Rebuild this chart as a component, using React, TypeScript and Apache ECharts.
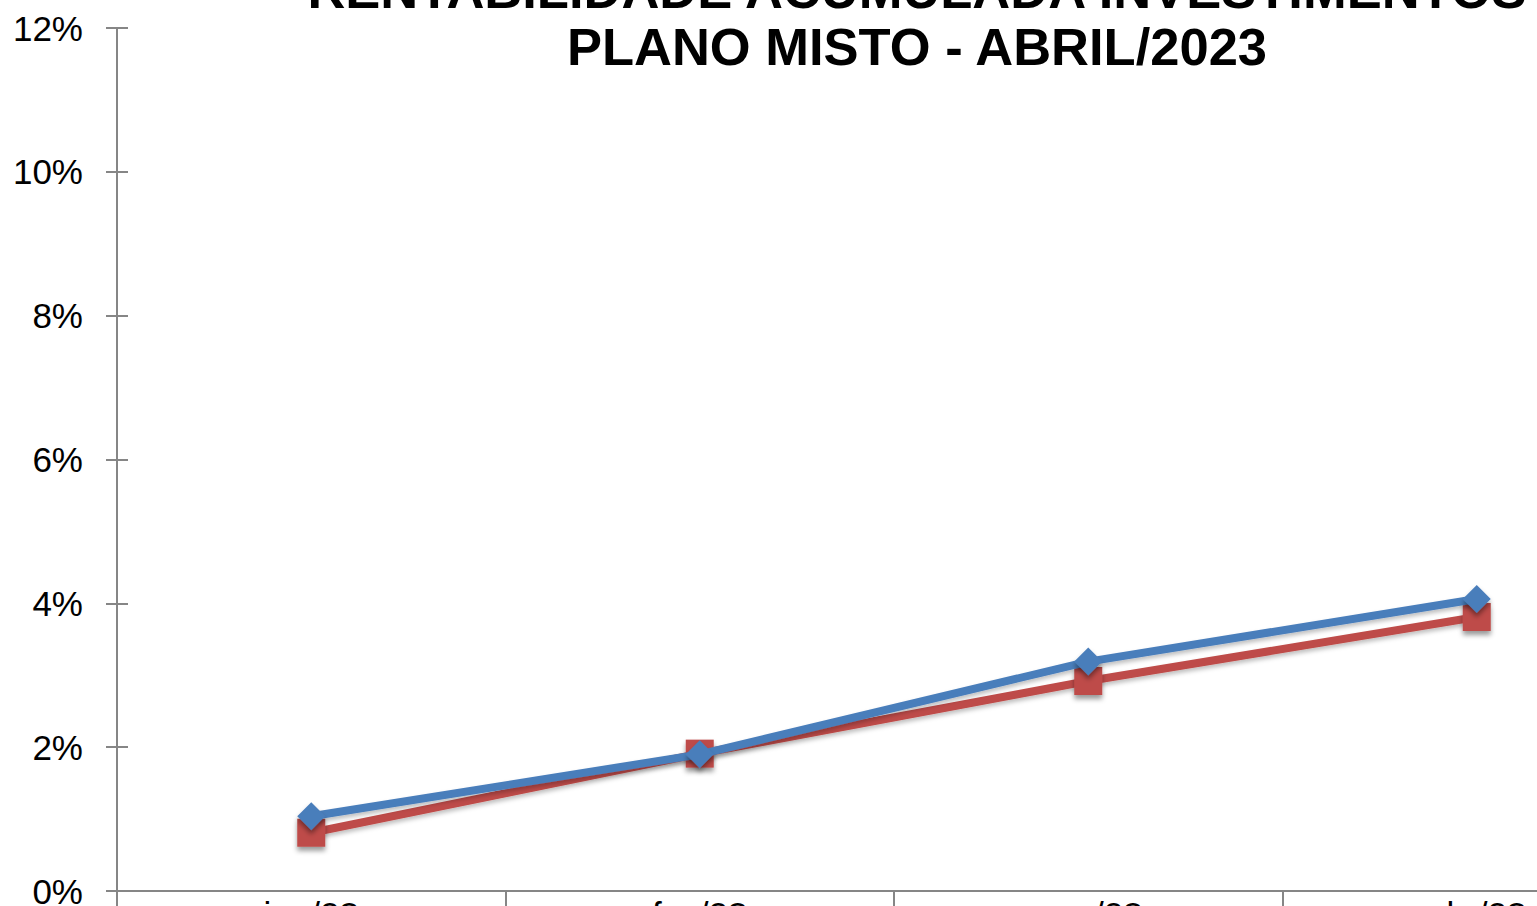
import React, { useEffect, useRef } from "react";
import * as echarts from "echarts";

const categories = ["jan/23", "fev/23", "mar/23", "abr/23"];
const planoValues = [1.04, 1.9, 3.19, 4.06];
const metaValues = [0.81, 1.91, 2.92, 3.81];
const yTicks = { min: 0, max: 12, interval: 2 };
const titleLines = ["RENTABILIDADE ACUMULADA INVESTIMENTOS", "PLANO MISTO - ABRIL/2023"];

const AXIS_COLOR = "#868686";
const FONT = "'Liberation Sans', Arial, sans-serif";
const CHART_W = 1700;
const CHART_H = 960;

export default function App() {
  const ref = useRef<HTMLDivElement>(null);
  useEffect(() => {
    if (!ref.current) return;
    const chart = echarts.init(ref.current, undefined, { renderer: "svg" });
    const yAxisBase = {
      type: "value" as const,
      min: yTicks.min,
      max: yTicks.max,
      interval: yTicks.interval,
      splitLine: { show: false },
    };
    chart.setOption({
      animation: false,
      backgroundColor: "#ffffff",
      textStyle: { fontFamily: FONT },
      grid: {
        left: 117,
        top: 28,
        right: CHART_W - 1671,
        bottom: CHART_H - 891,
        containLabel: false,
        outerBoundsMode: "none",
      },
      graphic: [
        {
          type: "text",
          x: 917,
          y: -10.5,
          style: {
            text: titleLines[0],
            font: `bold 52.5px ${FONT}`,
            fill: "#000",
            textAlign: "center",
            textVerticalAlign: "middle",
          },
        },
        {
          type: "text",
          x: 917,
          y: 46.5,
          style: {
            text: titleLines[1],
            font: `bold 52.5px ${FONT}`,
            fill: "#000",
            textAlign: "center",
            textVerticalAlign: "middle",
          },
        },
      ],
      xAxis: {
        type: "category",
        data: categories,
        boundaryGap: true,
        axisLine: { lineStyle: { color: AXIS_COLOR, width: 2 } },
        axisTick: { show: true, length: 18, lineStyle: { color: AXIS_COLOR, width: 2 } },
        axisLabel: { color: "#000", fontSize: 35, fontFamily: FONT, margin: 6 },
        splitLine: { show: false },
      },
      yAxis: [
        {
          ...yAxisBase,
          axisLine: { show: true, lineStyle: { color: AXIS_COLOR, width: 2 } },
          axisTick: { show: true, length: 11, lineStyle: { color: AXIS_COLOR, width: 2 } },
          axisLabel: {
            color: "#000",
            fontSize: 35,
            fontFamily: FONT,
            margin: 34,
            formatter: "{value}%",
          },
        },
        {
          ...yAxisBase,
          position: "left",
          axisLine: { show: false },
          axisTick: { show: true, inside: true, length: 11, lineStyle: { color: AXIS_COLOR, width: 2 } },
          axisLabel: { show: false },
        },
      ],
      series: [
        {
          name: "Meta",
          type: "line",
          data: metaValues,
          yAxisIndex: 0,
          symbol: "rect",
          symbolSize: 28,
          lineStyle: {
            color: "#BE4B48",
            width: 8,
            shadowBlur: 4,
            shadowOffsetY: 3,
            shadowColor: "rgba(0,0,0,0.25)",
          },
          itemStyle: {
            color: "#BE4B48",
            shadowBlur: 5,
            shadowOffsetY: 4,
            shadowColor: "rgba(0,0,0,0.4)",
          },
          z: 2,
        },
        {
          name: "Plano Misto",
          type: "line",
          data: planoValues,
          yAxisIndex: 0,
          symbol: "diamond",
          symbolSize: 28,
          lineStyle: {
            color: "#4A7EBB",
            width: 8,
            shadowBlur: 4,
            shadowOffsetY: 3,
            shadowColor: "rgba(0,0,0,0.25)",
          },
          itemStyle: {
            color: "#4A7EBB",
            shadowBlur: 5,
            shadowOffsetY: 4,
            shadowColor: "rgba(0,0,0,0.4)",
          },
          z: 3,
        },
      ],
    });
    return () => chart.dispose();
  }, []);
  return (
    <div
      style={{
        position: "absolute",
        left: 0,
        top: 0,
        width: 1537,
        height: 906,
        overflow: "hidden",
        background: "#fff",
      }}
    >
      <div ref={ref} style={{ width: CHART_W, height: CHART_H }} />
    </div>
  );
}
